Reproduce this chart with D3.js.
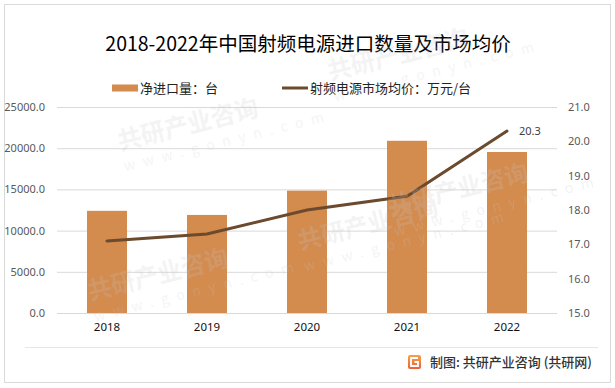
<!DOCTYPE html>
<html>
<head>
<meta charset="utf-8" />
<title>射频电源进口数量及市场均价</title>
<script src="https://cdn.jsdelivr.net/npm/d3@7/dist/d3.min.js"></script>
<style>
  body { margin: 0; background: #fff; }
  text { font-family: "Noto Sans CJK SC", "Noto Sans", sans-serif; }
</style>
</head>
<body>
<svg width="615" height="388"></svg>
<script>
var years = ['2018', '2019', '2020', '2021', '2022']
var imports = [12400, 11900, 14850, 20900, 19540]   // 净进口量：台
var prices = [17.1, 17.3, 18.0, 18.4, 20.3]         // 市场均价：万元/台
var leftTicks = [0, 5000, 10000, 15000, 20000, 25000]
var rightTicks = [15, 16, 17, 18, 19, 20, 21]

var svg = d3.select('svg')
var barColor = '#d38b4e'
var lineColor = '#6b4a2e'

// 外框
svg.append('rect').attr('x', 4.5).attr('y', 4.5).attr('width', 606).attr('height', 378)
  .attr('fill', '#fff').attr('stroke', '#d9d9d9')

// 标题
svg.append('text').attr('x', 308).attr('y', 51).attr('text-anchor', 'middle')
  .attr('font-size', 19.5).attr('fill', '#000').text('2018-2022年中国射频电源进口数量及市场均价')

// 图例
svg.append('rect').attr('x', 112).attr('y', 84.5).attr('width', 26).attr('height', 7).attr('fill', barColor)
svg.append('text').attr('x', 140).attr('y', 93).attr('font-size', 13).attr('fill', '#222').text('净进口量：台')
svg.append('line').attr('x1', 282).attr('x2', 308).attr('y1', 88).attr('y2', 88)
  .attr('stroke', lineColor).attr('stroke-width', 3)
svg.append('text').attr('x', 310).attr('y', 93).attr('font-size', 13).attr('fill', '#222').text('射频电源市场均价：万元/台')

var x = d3.scaleBand().domain(years).range([57, 557]).paddingInner(0.6).paddingOuter(0.3)
var yL = d3.scaleLinear().domain([0, 25000]).range([313, 107])
var yR = d3.scaleLinear().domain([15, 21]).range([313, 107])

// 网格线
svg.append('g').selectAll('line').data(leftTicks).enter().append('line')
  .attr('x1', 57).attr('x2', 557)
  .attr('y1', d => yL(d) + 0.5).attr('y2', d => yL(d) + 0.5)
  .attr('stroke', '#d9d9d9')

// 左轴
var axL = svg.append('g').attr('transform', 'translate(57,0)')
  .call(d3.axisLeft(yL).tickValues(leftTicks).tickFormat(d => d.toFixed(1)).tickSize(0).tickPadding(12))
axL.select('.domain').remove()
axL.selectAll('text').attr('font-size', 11).attr('fill', '#595959')
  .style('font-family', '"Noto Sans", sans-serif')

// 右轴
var axR = svg.append('g').attr('transform', 'translate(557,0)')
  .call(d3.axisRight(yR).tickValues(rightTicks).tickFormat(d => d.toFixed(1)).tickSize(0).tickPadding(11))
axR.select('.domain').remove()
axR.selectAll('text').attr('font-size', 11).attr('fill', '#595959')
  .style('font-family', '"Noto Sans", sans-serif')

// 柱子
svg.append('g').selectAll('rect').data(imports).enter().append('rect')
  .attr('x', (d, i) => x(years[i]))
  .attr('y', d => yL(d))
  .attr('width', x.bandwidth())
  .attr('height', d => yL(0) - yL(d))
  .attr('fill', barColor)

// X 轴
var axX = svg.append('g').attr('transform', 'translate(0,313)')
  .call(d3.axisBottom(x).tickSize(0).tickPadding(10))
axX.select('.domain').remove()
axX.selectAll('text').attr('font-size', 11.5).attr('fill', '#111')
  .style('font-family', '"Noto Sans", sans-serif')

// 折线
var line = d3.line()
  .x((d, i) => x(years[i]) + x.bandwidth() / 2)
  .y(d => yR(d))
svg.append('path').datum(prices).attr('d', line)
  .attr('fill', 'none').attr('stroke', lineColor).attr('stroke-width', 3).attr('stroke-linecap', 'round')

// 最后一点标签
var last = prices.length - 1
svg.append('text')
  .attr('x', x(years[last]) + x.bandwidth() / 2 + 12)
  .attr('y', yR(prices[last]) + 4)
  .attr('font-size', 11).attr('fill', '#404040')
  .style('font-family', '"Noto Sans", sans-serif')
  .text(prices[last].toFixed(1))

// 底部分隔线
svg.append('line').attr('x1', 25).attr('x2', 598).attr('y1', 347.5).attr('y2', 347.5).attr('stroke', '#e6e6e6')

// 来源 logo
var grad = svg.append('defs').append('linearGradient').attr('id', 'lg').attr('x1', 0).attr('y1', 0).attr('x2', 0).attr('y2', 1)
grad.append('stop').attr('offset', 0).attr('stop-color', '#f6a24a')
grad.append('stop').attr('offset', 1).attr('stop-color', '#e9603a')
svg.append('rect').attr('x', 408).attr('y', 355).attr('width', 13).attr('height', 14).attr('rx', 2).attr('fill', 'url(#lg)')
svg.append('path').attr('d', 'M418,358 H411 V366 H418 V362 H414.5')
  .attr('fill', 'none').attr('stroke', '#fff').attr('stroke-width', 1.8)

svg.append('text').attr('x', 430).attr('y', 367).attr('font-size', 13).attr('font-weight', 500)
  .attr('fill', '#333').text('制图: 共研产业咨询 (共研网)')

// 水印（压在图上，很淡）
var wm = svg.append('g').attr('fill', '#c8c8c8').attr('opacity', 0.22).attr('pointer-events', 'none')
var wmPos = [[120, 150], [330, 80], [300, 250], [90, 300], [390, 215]]
wmPos.forEach(function (p) {
  var g = wm.append('g').attr('transform', 'translate(' + p[0] + ',' + p[1] + ') rotate(-14)')
  g.append('text').attr('font-size', 24).attr('font-weight', 'bold').text('共研产业咨询')
  g.append('text').attr('y', 22).attr('font-size', 14).attr('letter-spacing', 8).text('www.gonyn.com')
})
</script>
</body>
</html>
